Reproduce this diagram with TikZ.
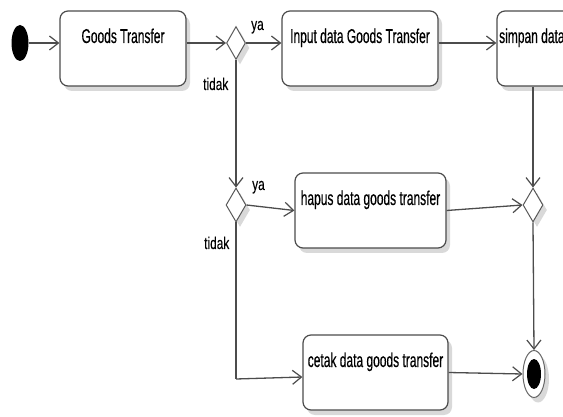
\documentclass[tikz,border=0pt]{standalone}
\usepackage{fontspec}
\setmainfont{Liberation Sans}[FakeStretch=0.6,FakeBold=0.4]
\newfontfamily\lblfont{Liberation Sans}[FakeStretch=0.7,FakeBold=0.2]
\usetikzlibrary{shapes.geometric,arrows.meta,shadows}
\tikzset{
  conn/.style={draw=black!70, line width=1.3pt, -{Straight Barb[length=9pt,width=14pt,line width=1.2pt]}},
  plain/.style={draw=black!70, line width=1.3pt},
  shad/.style={drop shadow={shadow xshift=4pt, shadow yshift=-5pt, fill=black!15, opacity=1}},
  act/.style={rectangle, rounded corners=8pt, draw=black!70, line width=1.2pt, fill=white,
    inner xsep=0pt, inner ysep=0pt, text height=32pt, text depth=43pt,
    font=\fontsize{20}{24}\selectfont, shad},
  dec/.style={diamond, draw=black!65, line width=1pt, fill=white, inner sep=0pt,
    minimum width=20pt, minimum height=34pt, shad},
  lbl/.style={font=\lblfont\fontsize{17}{20}\selectfont, inner sep=0pt},
}
\begin{document}
\begin{tikzpicture}[x=1pt,y=-1pt]
\useasboundingbox (0,0) rectangle (563,417);
\clip (0,0) rectangle (563,417);
% start
\node[ellipse, fill=black, minimum width=17pt, minimum height=36pt, inner sep=0pt] (start) at (20,43) {};
% activities
\node[act, minimum width=126pt] (gt) at (123,48.5) {Goods Transfer};
\node[act, minimum width=156pt] (inp) at (360,48.5) {Input data Goods Transfer};
\node[act, minimum width=156pt] (sim) at (575,48.5) {simpan data Goods Transfer};
\node[act, minimum width=151pt] (hap) at (370.5,210.5) {hapus data goods transfer};
\node[act, minimum width=145pt] (cet) at (375.5,372.5) {cetak data goods transfer};
% decisions
\node[dec, minimum width=19pt, minimum height=33pt] (d1) at (236,43) {};
\node[dec] (d2) at (236,205) {};
\node[dec] (d3) at (533,205) {};
% final
\node[ellipse, draw=black!60, line width=1pt, fill=white, minimum width=22pt, minimum height=47pt, inner sep=0pt, shad] (fin) at (534,374) {};
\node[ellipse, fill=black, minimum width=14pt, minimum height=30pt, inner sep=0pt] (finc) at (fin) {};
% labels
\node[lbl, anchor=base west] (ya1) at (251,30) {ya};
\node[lbl, anchor=base west] (ti1) at (203,90) {tidak};
\node[lbl, anchor=base west] (ya2) at (252,190) {ya};
\node[lbl, anchor=base west] (ti2) at (204,249) {tidak};
\coordinate (k) at (236,379);
% connectors
\draw[conn] (start.east) -- (start.east -| gt.west);
\draw[conn] (gt.east |- d1) -- (d1.west);
\draw[conn] (d1.east) -- (inp.west |- d1);
\draw[conn] (inp.east |- d1) -- (sim.west |- d1);
\draw[conn] (sim.south -| d3) -- (d3.north);
\draw[conn] (d1.south) -- (d2.north);
\draw[conn] (d2.east) -- (hap.west);
\draw[conn] (hap.east) -- (d3.west);
\draw[conn] (d3.south) -- (fin.north);
\draw[plain] (d2.south) -- (k);
\draw[conn] (k) -- ([yshift=-4.5pt]cet.west);
\draw[conn] (cet.east) -- (fin.west);
\end{tikzpicture}
\end{document}
